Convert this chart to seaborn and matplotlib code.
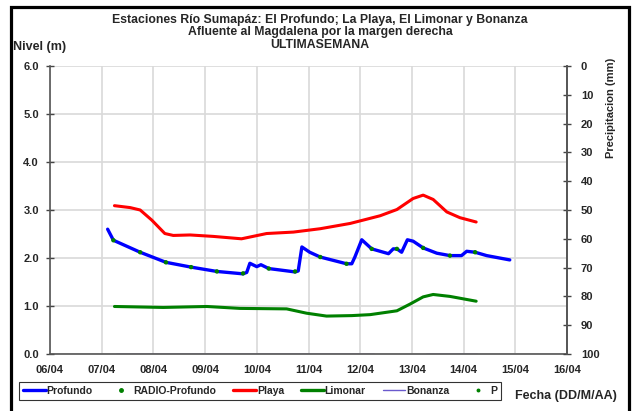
import numpy as np
import pandas as pd
import matplotlib
matplotlib.use('Agg')
import matplotlib.pyplot as plt
from matplotlib.lines import Line2D
from matplotlib.patches import Rectangle
import seaborn as sns

# Data (x = days after 06/04)
day_labels = ['06/04', '07/04', '08/04', '09/04', '10/04', '11/04',
              '12/04', '13/04', '14/04', '15/04', '16/04']

profundo_x = [1.115, 1.226, 1.744, 2.242, 2.729, 3.227, 3.734, 3.805, 3.866,
              3.999, 4.080, 4.232, 4.740, 4.801, 4.872, 5.024, 5.227, 5.735,
              5.837, 5.897, 6.030, 6.223, 6.547, 6.639, 6.710, 6.801, 6.913,
              7.024, 7.218, 7.482, 7.735, 7.959, 8.060, 8.223, 8.446, 8.893]
profundo_y = [2.60, 2.37, 2.12, 1.91, 1.81, 1.72, 1.67, 1.70, 1.89, 1.82, 1.86,
              1.78, 1.71, 1.73, 2.23, 2.12, 2.02, 1.88, 1.88, 2.02, 2.38, 2.19,
              2.09, 2.19, 2.19, 2.12, 2.38, 2.35, 2.21, 2.10, 2.05, 2.05, 2.14,
              2.12, 2.05, 1.96]

radio_x = [1.226, 1.744, 2.242, 2.729, 3.227, 3.734, 4.232, 4.740, 5.227,
           5.735, 6.223, 6.710, 7.218, 7.735, 8.223]
radio_y = [2.37, 2.12, 1.91, 1.81, 1.72, 1.68, 1.78, 1.72, 2.02, 1.88, 2.19,
           2.19, 2.21, 2.05, 2.12]

playa_x = [1.247, 1.551, 1.744, 1.968, 2.221, 2.384, 2.709, 3.156, 3.704,
           4.191, 4.709, 5.227, 5.806, 6.060, 6.385, 6.710, 7.024, 7.218,
           7.411, 7.675, 7.929, 8.243]
playa_y = [3.09, 3.05, 3.00, 2.79, 2.51, 2.47, 2.48, 2.45, 2.40, 2.51, 2.54,
           2.61, 2.72, 2.79, 2.88, 3.01, 3.24, 3.31, 3.22, 2.96, 2.84, 2.75]

limonar_x = [1.247, 2.191, 3.034, 3.674, 4.577, 4.963, 5.349, 5.837, 6.192,
             6.710, 6.964, 7.218, 7.411, 7.735, 8.243]
limonar_y = [0.99, 0.97, 0.99, 0.95, 0.94, 0.85, 0.79, 0.80, 0.82, 0.90, 1.04,
             1.19, 1.24, 1.20, 1.10]

bonanza_x = [1.27, 6.26, 7.27, 8.26]
bonanza_y = [0.0, 0.0, 0.0, 0.0]
bonanza_seg = [1, 1, 2, 2]

sns.set_style('white')
plt.rcParams['font.family'] = ['Liberation Sans', 'DejaVu Sans']
plt.rcParams['font.weight'] = 'bold'

fig = plt.figure(figsize=(6.4, 4.11), dpi=100)
ax = fig.add_axes([50 / 640, 1 - 354 / 411, 517 / 640, 288 / 411])

ax.set_xlim(0, 10)
ax.set_ylim(0, 6)
ax.set_xticks(range(11))
ax.set_xticklabels(day_labels, fontsize=8, fontweight='bold')
ax.set_yticks(range(7))
ax.set_yticklabels(['%.1f' % v for v in range(7)], fontsize=8, fontweight='bold')
ax.grid(True, color='#d9d9d9', lw=1.2)
ax.set_axisbelow(True)
ax.spines['top'].set_visible(False)
for s in ['left', 'bottom', 'right']:
    ax.spines[s].set_color('#555555')
    ax.spines[s].set_linewidth(1.2)
ax.tick_params(axis='both', direction='inout', length=6, width=1, color='#444444')
ax.tick_params(axis='x', pad=5)
ax.tick_params(axis='y', pad=5)

bon = pd.DataFrame({'x': bonanza_x, 'y': bonanza_y, 'seg': bonanza_seg})
sns.lineplot(data=bon, x='x', y='y', units='seg', estimator=None, ax=ax,
             color='#6a5acd', lw=1.0, legend=False)
sns.lineplot(x=limonar_x, y=limonar_y, ax=ax, color='#008000', lw=2.2, legend=False)
sns.lineplot(x=playa_x, y=playa_y, ax=ax, color='#ff0000', lw=2.2, legend=False)
sns.lineplot(x=profundo_x, y=profundo_y, ax=ax, color='#0000ff', lw=2.4, legend=False)
sns.scatterplot(x=radio_x, y=radio_y, ax=ax, color='#008000', s=10,
                edgecolor='none', zorder=5, legend=False)
ax.set_xlabel('')
ax.set_ylabel('')

# right axis: precipitation (inverted)
ax2 = ax.twinx()
ax2.set_ylim(100, 0)
ax2.set_yticks(range(0, 101, 10))
ax2.set_yticklabels([str(v) for v in range(0, 101, 10)], fontsize=8, fontweight='bold')
ax2.tick_params(axis='y', direction='inout', length=6, width=1, color='#444444', pad=7)
for s in ['top', 'left', 'bottom']:
    ax2.spines[s].set_visible(False)
ax2.spines['right'].set_color('#555555')
ax2.spines['right'].set_linewidth(1.2)

# titles
fig.text(0.5, 1 - 20 / 411, 'Estaciones Río Sumapáz: El Profundo; La Playa, El Limonar y Bonanza',
         ha='center', va='center', fontsize=8.8, fontweight='bold')
fig.text(0.5, 1 - 32 / 411, 'Afluente al Magdalena por la margen derecha',
         ha='center', va='center', fontsize=8.8, fontweight='bold')
fig.text(0.5, 1 - 45 / 411, 'ULTIMASEMANA',
         ha='center', va='center', fontsize=8.8, fontweight='bold')
fig.text(13 / 640, 1 - 47 / 411, 'Nivel (m)', ha='left', va='center',
         fontsize=9, fontweight='bold')
fig.text(611 / 640, 1 - 108 / 411, 'Precipitacion (mm)', ha='center', va='center',
         rotation=90, fontsize=8, fontweight='bold')
fig.text(566 / 640, 1 - 396 / 411, 'Fecha (DD/M/AA)', ha='center', va='center',
         fontsize=9, fontweight='bold')

# legend
handles = [
    Line2D([], [], color='#0000ff', lw=2.4),
    Line2D([], [], color='#008000', lw=0, marker='o', ms=2.5),
    Line2D([], [], color='#ff0000', lw=2.4),
    Line2D([], [], color='#008000', lw=2.4),
    Line2D([], [], color='#6a5acd', lw=1.0),
    Line2D([], [], color='#008000', lw=0, marker='o', ms=1.8),
]
labels = ['Profundo', 'RADIO-Profundo', 'Playa', 'Limonar', 'Bonanza', 'P']
leg = fig.legend(handles, labels, ncol=6, loc='center',
                 bbox_to_anchor=(260 / 640, 1 - 391 / 411), frameon=True,
                 fancybox=False, fontsize=7.5, handlelength=2.2, handletextpad=0.1,
                 columnspacing=1.6, borderpad=0.35)
leg.get_frame().set_edgecolor('black')
leg.get_frame().set_linewidth(0.8)
for t in leg.get_texts():
    t.set_fontweight('bold')

# outer black frame (bottom runs off the image)
fig.patches.append(Rectangle((10.5 / 640, -0.1), 618 / 640, 1.1 - 7.5 / 411,
                             transform=fig.transFigure, fill=False,
                             edgecolor='black', lw=2.3, clip_on=False))

fig.savefig('out.png', dpi=100)
